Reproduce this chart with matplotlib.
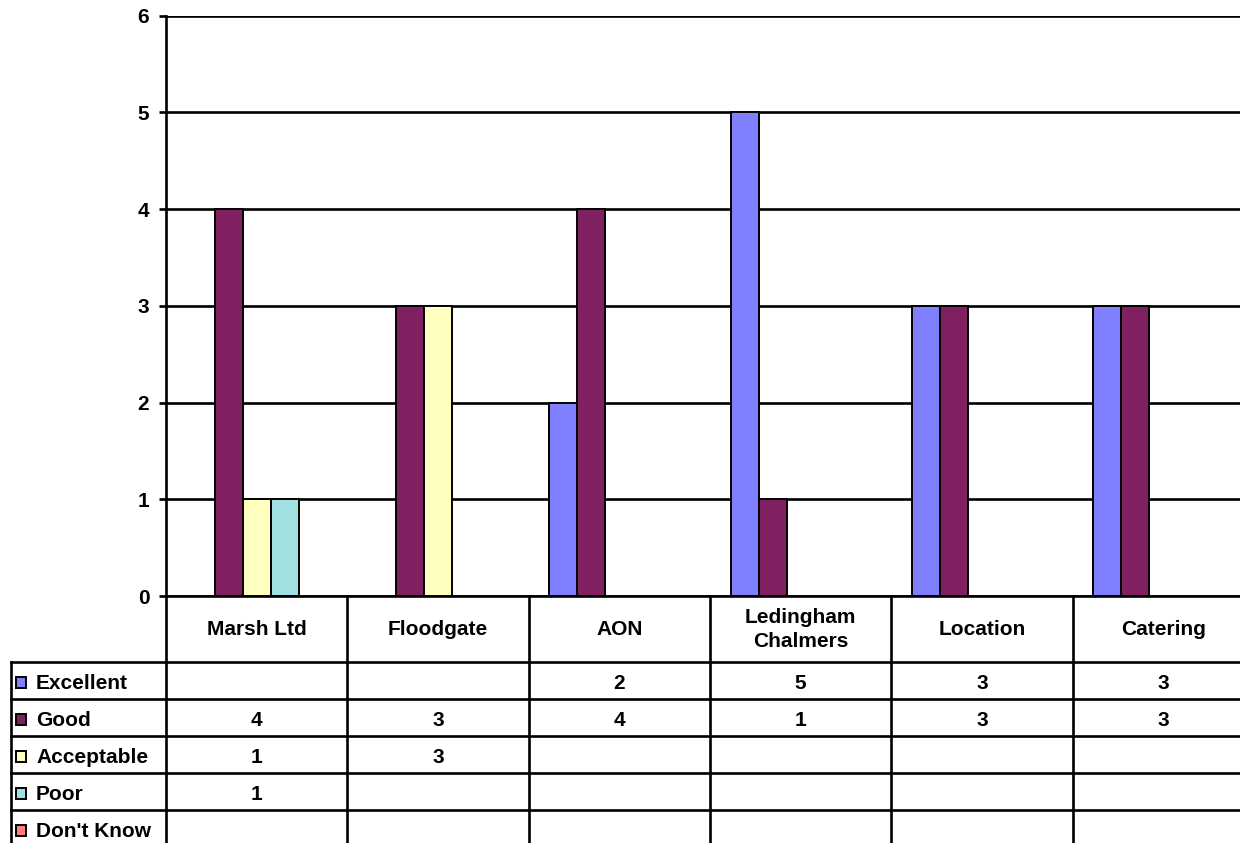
import numpy as np
import matplotlib
matplotlib.use("Agg")
import matplotlib.pyplot as plt
from matplotlib.patches import Rectangle
from matplotlib.lines import Line2D

# ---------------- data ----------------
categories = ["Marsh Ltd", "Floodgate", "AON", "Ledingham\nChalmers", "Location", "Catering"]
series_names = ["Excellent", "Good", "Acceptable", "Poor", "Don't Know"]
nan = np.nan
excellent = [nan, nan, 2, 5, 3, 3]
good = [4, 3, 4, 1, 3, 3]
acceptable = [1, 3, nan, nan, nan, nan]
poor = [1, nan, nan, nan, nan, nan]
dont_know = [nan, nan, nan, nan, nan, nan]
series_values = [excellent, good, acceptable, poor, dont_know]
colors = ["#8080FF", "#802060", "#FFFFC0", "#A0E0E0", "#FF8080"]
y_ticks = [0, 1, 2, 3, 4, 5, 6]

# ---------------- style ----------------
plt.rcParams["font.family"] = ["Liberation Sans", "DejaVu Sans"]
plt.rcParams["font.weight"] = "bold"
FS = 15

W, H = 1240, 843
fig = plt.figure(figsize=(W / 100, H / 100), dpi=100)

# pixel geometry (image coords, y from top)
plot_left, plot_right = 166, 1254
plot_top, plot_bottom = 15.7, 596
header_bottom = 661.7
row_h = 37.0
label_left = 11

ax = fig.add_axes([plot_left / W, (H - plot_bottom) / H,
                   (plot_right - plot_left) / W, (plot_bottom - plot_top) / H])
n_cat = len(categories)
n_ser = len(series_names)
x = np.arange(n_cat)
bw = 0.1544
for j, (vals, col) in enumerate(zip(series_values, colors)):
    v = np.array(vals, dtype=float)
    mask = ~np.isnan(v)
    ax.bar(x[mask] + (j - (n_ser - 1) / 2) * bw, v[mask], width=bw, color=col,
           edgecolor="black", linewidth=1.4, zorder=3)

ax.set_xlim(-0.5, n_cat - 0.5)
ax.set_ylim(0, 6)
ax.set_yticks(y_ticks)
ax.set_yticklabels([str(t) for t in y_ticks], fontsize=FS, fontweight="bold")
ax.set_xticks([])
ax.yaxis.grid(True, color="black", linewidth=1.9, zorder=0)
ax.set_axisbelow(True)
for s in ["top", "right"]:
    ax.spines[s].set_visible(False)
ax.spines["left"].set_linewidth(1.9)
ax.spines["bottom"].set_linewidth(1.9)
ax.tick_params(axis="y", length=5, width=1.9, pad=7)

# ---------------- data table ----------------
tab = fig.add_axes([plot_left / W, 0, (plot_right - plot_left) / W, (H - plot_bottom) / H])
tab.set_xlim(-0.5, n_cat - 0.5)
tab.set_ylim(H, plot_bottom)
tab.axis("off")
px_per_cat = (plot_right - plot_left) / n_cat
lab_x0 = -0.5 - (plot_left - label_left) / px_per_cat
lw = 1.9

# vertical column lines
for i in range(n_cat + 1):
    tab.add_line(Line2D([i - 0.5, i - 0.5], [plot_bottom, H + 5], color="black", lw=lw, clip_on=False))
# left border of label column
tab.add_line(Line2D([lab_x0, lab_x0], [header_bottom, H + 5], color="black", lw=lw, clip_on=False))
# horizontal row lines
for r in range(n_ser + 1):
    yy = header_bottom + r * row_h
    tab.add_line(Line2D([lab_x0, n_cat - 0.5], [yy, yy], color="black", lw=lw, clip_on=False))

# header texts
for i, c in enumerate(categories):
    tab.text(i, (plot_bottom + header_bottom) / 2 + 1, c, ha="center", va="center",
             fontsize=FS, fontweight="bold", linespacing=1.35, clip_on=False)

# rows
key = 10.5 / px_per_cat
for r, (name, vals, col) in enumerate(zip(series_names, series_values, colors)):
    yc = header_bottom + (r + 0.5) * row_h + 3
    kx = lab_x0 + 5 / px_per_cat
    tab.add_patch(Rectangle((kx, yc - 6), key, 10.5, facecolor=col, edgecolor="black",
                            lw=1.4, clip_on=False))
    tab.text(lab_x0 + 25 / px_per_cat, yc, name, ha="left", va="center", fontsize=FS,
             fontweight="bold", clip_on=False)
    for i, v in enumerate(vals):
        if not np.isnan(v):
            tab.text(i, yc, f"{v:g}", ha="center", va="center", fontsize=FS,
                     fontweight="bold", clip_on=False)

fig.savefig("out.png", dpi=100)
